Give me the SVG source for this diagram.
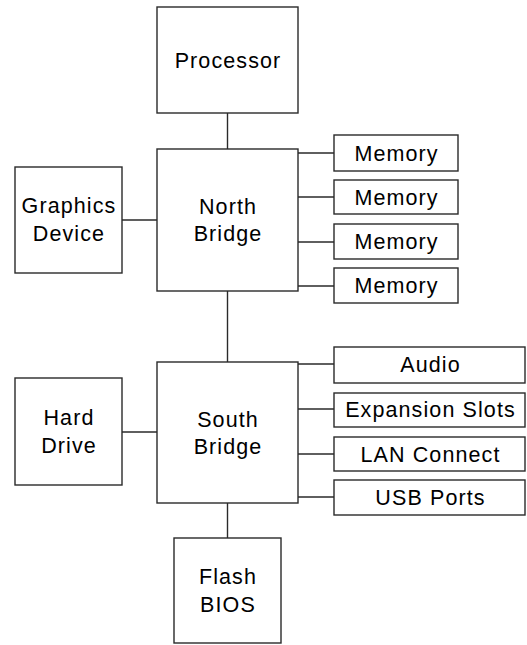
<svg xmlns="http://www.w3.org/2000/svg" width="527" height="645" viewBox="0 0 527 645">
<style>
.box{fill:#fff;stroke:#2a2a2a;stroke-width:1.4}
.ln{stroke:#2a2a2a;stroke-width:1.4;fill:none}
text{font-family:"Liberation Sans",Arial,sans-serif;font-size:21.5px;letter-spacing:1.1px;text-anchor:middle;fill:#000}
</style>
<rect width="527" height="645" fill="#fff"/>
<g id="connectors">
<line class="ln" x1="227.5" y1="113" x2="227.5" y2="149"/>
<line class="ln" x1="227.5" y1="291" x2="227.5" y2="362"/>
<line class="ln" x1="227.5" y1="503" x2="227.5" y2="538"/>
<line class="ln" x1="122" y1="220" x2="157" y2="220"/>
<line class="ln" x1="122" y1="432" x2="157" y2="432"/>
<line class="ln" x1="298" y1="153" x2="334" y2="153"/>
<line class="ln" x1="298" y1="197" x2="334" y2="197"/>
<line class="ln" x1="298" y1="242" x2="334" y2="242"/>
<line class="ln" x1="298" y1="286" x2="334" y2="286"/>
<line class="ln" x1="298" y1="364" x2="334" y2="364"/>
<line class="ln" x1="298" y1="409" x2="334" y2="409"/>
<line class="ln" x1="298" y1="454" x2="334" y2="454"/>
<line class="ln" x1="298" y1="497" x2="334" y2="497"/>
</g>
<g id="processor"><rect class="box" x="157" y="7" width="141" height="106"/><text x="228" y="68">Processor</text></g>
<g id="northbridge"><rect class="box" x="157" y="149" width="141" height="142"/><text x="228" y="214">North</text><text x="228" y="241">Bridge</text></g>
<g id="graphics"><rect class="box" x="15" y="167" width="107" height="106"/><text x="69" y="213">Graphics</text><text x="69" y="241">Device</text></g>
<g id="memory1"><rect class="box" x="334" y="135" width="124" height="36"/><text x="396.5" y="161">Memory</text></g>
<g id="memory2"><rect class="box" x="334" y="180" width="124" height="34"/><text x="396.5" y="205">Memory</text></g>
<g id="memory3"><rect class="box" x="334" y="224" width="124" height="35"/><text x="396.5" y="249">Memory</text></g>
<g id="memory4"><rect class="box" x="334" y="268" width="124" height="35"/><text x="396.5" y="293">Memory</text></g>
<g id="southbridge"><rect class="box" x="157" y="362" width="141" height="141"/><text x="228" y="427">South</text><text x="228" y="454">Bridge</text></g>
<g id="harddrive"><rect class="box" x="15" y="378" width="107" height="107"/><text x="69" y="425">Hard</text><text x="69" y="453">Drive</text></g>
<g id="audio"><rect class="box" x="334" y="347" width="191" height="36"/><text x="430.5" y="372">Audio</text></g>
<g id="expansion"><rect class="box" x="334" y="393" width="191" height="34"/><text x="430.5" y="417">Expansion Slots</text></g>
<g id="lan"><rect class="box" x="334" y="437" width="191" height="34"/><text x="430.5" y="462">LAN Connect</text></g>
<g id="usb"><rect class="box" x="334" y="480" width="191" height="35"/><text x="430.5" y="505">USB Ports</text></g>
<g id="flashbios"><rect class="box" x="174" y="538" width="107" height="105"/><text x="228" y="584">Flash</text><text x="228" y="612">BIOS</text></g>
</svg>
